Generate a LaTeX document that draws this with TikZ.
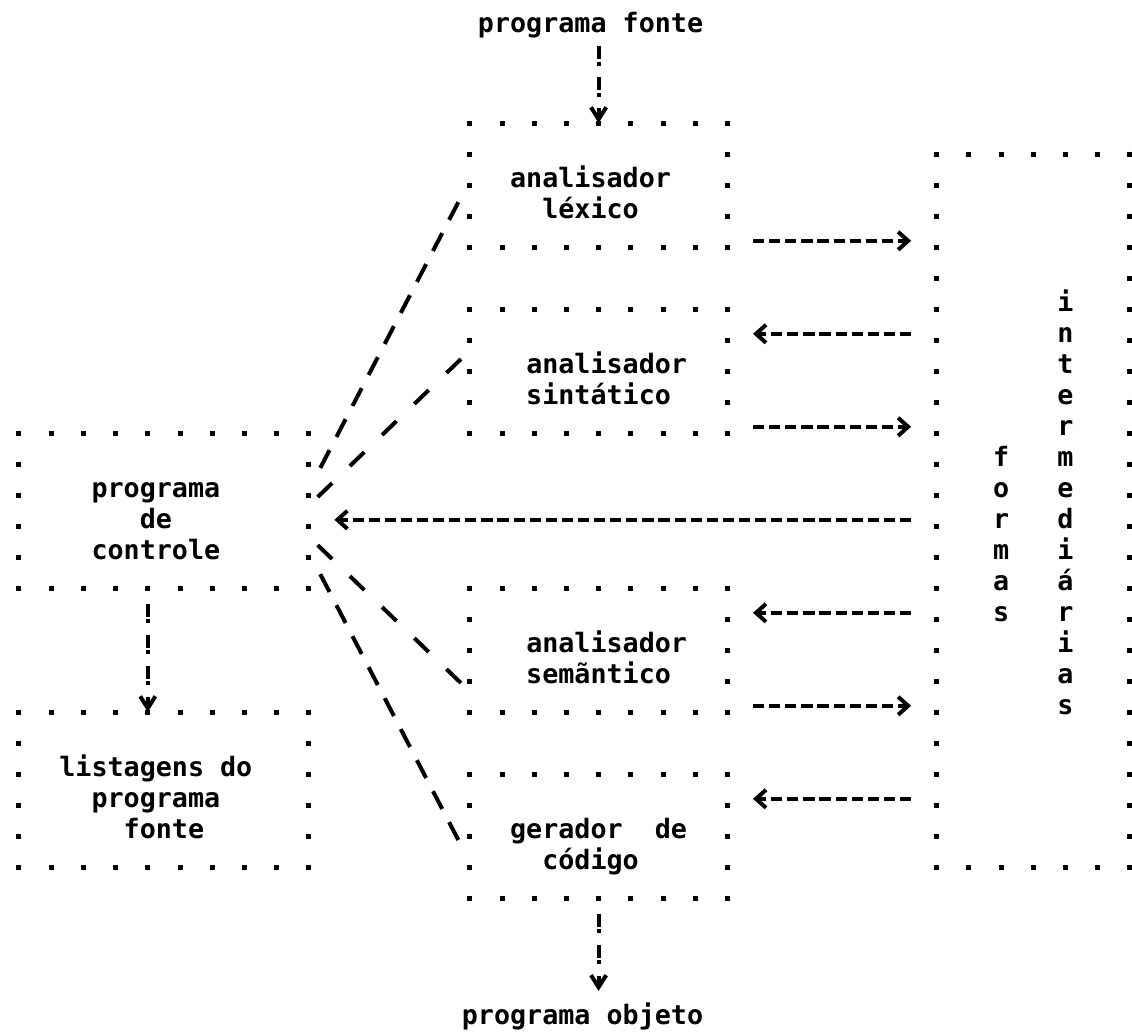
\documentclass[tikz,border=0pt]{standalone}
\usepackage{fontspec}
\newfontfamily\mono{DejaVu Sans Mono}
\usetikzlibrary{arrows.meta,calc}
\def\dotframe(#1){%
  \draw[hdots] (#1.north west) -- (#1.north east);
  \draw[hdots] (#1.south west) -- (#1.south east);
  \draw[vdots] (#1.north west) -- (#1.south west);
  \draw[vdots] (#1.north east) -- (#1.south east);}
\tikzset{
  hdots/.style={line width=0.125cm, dash pattern=on 0.125cm off 0.68cm, shorten <=-0.0625cm, shorten >=-0.0625cm},
  vdots/.style={line width=0.125cm, dash pattern=on 0.125cm off 0.65cm, shorten <=-0.0625cm, shorten >=-0.0625cm},
  box/.style={inner sep=0pt, outer sep=0pt},
  midbox/.style={box, minimum width=6.44cm, minimum height=3.1cm},
  sidebox/.style={box, minimum width=7.245cm, minimum height=3.875cm},
  txt/.style={inner sep=0pt, anchor=base, yshift=-0.0625cm, font=\mono\bfseries\fontsize{19}{22}\selectfont},
  hflow/.style={line width=0.1cm, dash pattern=on 0.28cm off 0.1225cm, shorten <=0.64cm, shorten >=0.64cm, -{Straight Barb[length=0.25cm, width=0.45cm]}},
  vflow/.style={line width=0.1cm, dash pattern=on 0.325cm off 0.06cm on 0.1cm off 0.29cm, shorten <=0.4cm, -{Straight Barb[length=0.3cm, width=0.38cm]}},
  slashA/.style={line width=0.1cm, dash pattern=on 0.5cm off 0.3733cm, shorten <=-0.25cm, shorten >=-0.25cm},
  slashB/.style={line width=0.1cm, dash pattern=on 0.5cm off 0.6175cm, shorten <=-0.25cm, shorten >=-0.25cm},
}

\begin{document}
\begin{tikzpicture}[x=0.4025cm, y=-0.775cm]
			%%%%% START %%%%%
			\useasboundingbox (-1.18,-3.968) rectangle (69.13,29.355);
			
			\node[midbox] (lex) at (36,2) {};
			\node[midbox] (syn) at (36,8) {};
			\node[midbox] (sem) at (36,17) {};
			\node[midbox] (ger) at (36,23) {};
			\node[sidebox] (ctrl) at (9,12.5) {};
			\node[sidebox] (list) at (9,21.5) {};
			\node[box, minimum width=4.83cm, minimum height=17.825cm] (forms) at (63,12.5) {};
			
			\dotframe(lex)
			\dotframe(syn)
			\dotframe(sem)
			\dotframe(ger)
			\dotframe(ctrl)
			\dotframe(list)
			\dotframe(forms)
			
			\node[txt] (src) at (35.5,-3) {programa fonte};
			\node[txt] (obj) at (35,29) {programa objeto};
			
			\node[txt] (lexA) at (35.5,2) {analisador};
			\node[txt] (lexB) at (35.5,3) {léxico};
			\node[txt] (synA) at (36.5,8) {analisador};
			\node[txt] (synB) at (36,9) {sintático};
			\node[txt] (semA) at (36.5,17) {analisador};
			\node[txt] (semB) at (36,18) {semãntico};
			\node[txt] (gerA) at (36,23) {gerador~~de};
			\node[txt] (gerB) at (35.5,24) {código};
			
			\node[txt] (ctrlA) at (8.5,12) {programa};
			\node[txt] (ctrlB) at (8.5,13) {de};
			\node[txt] (ctrlC) at (8.5,14) {controle};
			\node[txt] (listA) at (8.5,21) {listagens do};
			\node[txt] (listB) at (8.5,22) {programa};
			\node[txt] (listC) at (9,23) {fonte};
			
			\foreach \ch [count=\i] in {f,o,r,m,a,s}
				\node[txt] (fm\i) at (61,10+\i) {\ch};
			\foreach \ch [count=\i] in {i,n,t,e,r,m,e,d,i,á,r,i,a,s}
				\node[txt] (im\i) at (65,5+\i) {\ch};
			
			\draw[vflow, shorten <=0.2cm] (src.south -| lex.north) -- (lex.north);
			\draw[vflow] ($(ctrl.south)+(-1,0)$) -- ($(list.north)+(-1,0)$);
			\draw[vflow, shorten >=0.29cm] (ger.south) -- (ger.south |- obj.north);
			
			\coordinate (a1) at ($(lex.south east)+(0,-0.2)$);
			\coordinate (a2) at ($(syn.north east)+(0,0.8)$);
			\coordinate (a3) at ($(syn.south east)+(0,-0.2)$);
			\coordinate (a4) at ($(ctrl.east)+(0,0.3)$);
			\coordinate (a5) at ($(sem.north east)+(0,0.8)$);
			\coordinate (a6) at ($(sem.south east)+(0,-0.2)$);
			\coordinate (a7) at ($(ger.north east)+(0,0.8)$);
			\draw[hflow] (a1) -- (a1 -| forms.west);
			\draw[hflow] (a2 -| forms.west) -- (a2);
			\draw[hflow] (a3) -- (a3 -| forms.west);
			\draw[hflow] (a4 -| forms.west) -- (a4);
			\draw[hflow] (a5 -| forms.west) -- (a5);
			\draw[hflow] (a6) -- (a6 -| forms.west);
			\draw[hflow] (a7 -| forms.west) -- (a7);
			
			\draw[slashA] ($(ctrl.north east)+(1,0.84)$) -- ($(lex.south west)+(-1,-1.16)$);
			\draw[slashB] ($(ctrl.east)+(1,-0.66)$) -- ($(syn.west)+(-1,-0.16)$);
			\draw[slashB] ($(ctrl.east)+(1,1.34)$) -- ($(sem.west)+(-1,0.84)$);
			\draw[slashA] ($(ctrl.south east)+(1,-0.16)$) -- ($(ger.west)+(-1,-0.16)$);
			%%%%% END %%%%%
\end{tikzpicture}
\end{document}
